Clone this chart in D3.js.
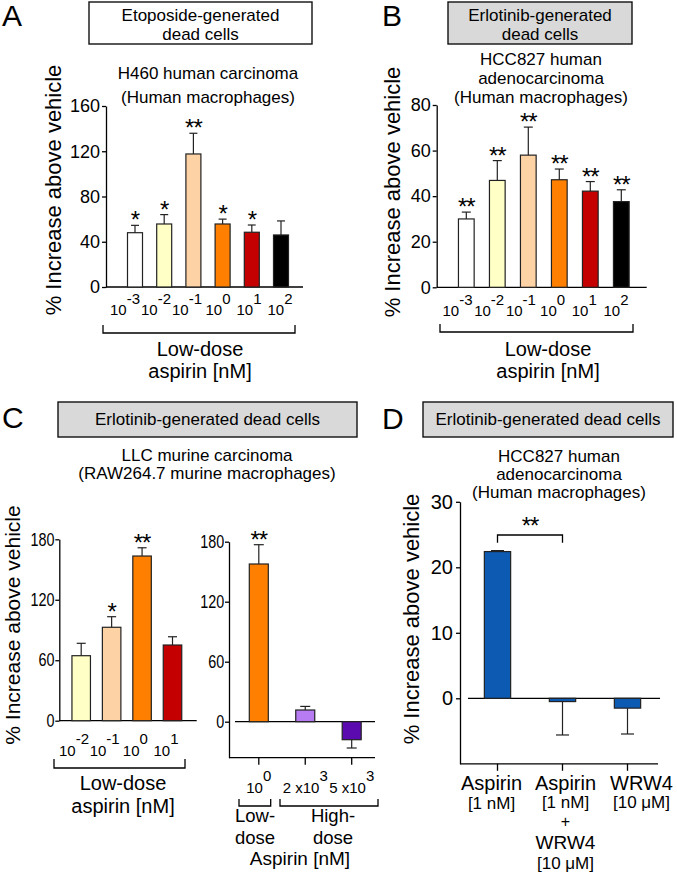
<!DOCTYPE html>
<html>
<head>
<meta charset="utf-8">
<script src="https://cdn.jsdelivr.net/npm/d3@7"></script>
<style>
  body { margin: 0; background: #fff; }
  svg { display: block; }
  text { font-family: "Liberation Sans", Arial, Helvetica, sans-serif; fill: #000; }
</style>
</head>
<body>
<svg id="chart" width="677" height="876"></svg>
<script>
// ---------------- DATA ----------------
// Panel A: Etoposide-generated dead cells, H460, human macrophages
const exponentsA = ["-3", "-2", "-1", "0", "1", "2"];
const valuesA = [48, 55.7, 117.6, 55.7, 48.4, 46];
const semA = [6.5, 8.3, 18.3, 4.3, 6.4, 12.4];
const starsA = ["*", "*", "**", "*", "*", ""];
const ticksA = [0, 40, 80, 120, 160];

// Panel B: Erlotinib-generated dead cells, HCC827, human macrophages
const exponentsB = ["-3", "-2", "-1", "0", "1", "2"];
const valuesB = [30, 46.9, 58, 47.2, 42.2, 37.6];
const semB = [3, 8.7, 12.3, 4.7, 4.2, 5.2];
const starsB = ["**", "**", "**", "**", "**", "**"];
const ticksB = [0, 20, 40, 60, 80];

// shared dose colours (10^-3 ... 10^2)
const doseColors = ["#ffffff", "#ffffc6", "#fdd3a6", "#ff8000", "#c40000", "#000000"];

// Panel C left: low-dose aspirin
const exponentsCLow = ["-2", "-1", "0", "1"];
const valuesCLow = [64.5, 92.7, 163.4, 75.1];
const semCLow = [12.3, 10.5, 8.2, 8.2];
const starsCLow = ["", "*", "**", ""];
const colorsCLow = ["#ffffc6", "#fdd3a6", "#ff8000", "#c40000"];
const ticksC = [0, 60, 120, 180];

// Panel C right: low vs high dose
const labelsCHigh = [["10", "0"], ["2 x10", "3"], ["5 x10", "3"]];
const valuesCHigh = [157.7, 11.7, -18];
const semCHigh = [19.3, 3.6, 8.3];
const starsCHigh = ["**", "", ""];
const colorsCHigh = ["#ff8000", "#b77cf2", "#5a0aae"];

// Panel D: WRW4
const labelsD = ["Aspirin", "Aspirin+WRW4", "WRW4"];
const valuesD = [22.4, -0.5, -1.5];
const semD = [0.15, 5.1, 3.95];
const ticksD = [0, 10, 20, 30];
const colorD = "#0c5ab2";

// ---------------- HELPERS ----------------
const svg = d3.select("#chart");
const FONT = "\"Liberation Sans\", Arial, Helvetica, sans-serif";
const STROKE = "#222";

function text(g, x, y, str, size, anchor = "middle") {
  return g.append("text").attr("x", x).attr("y", y)
    .attr("font-size", size).attr("text-anchor", anchor).text(str);
}
function lines(g, x, ys, strs, size) {
  strs.forEach((s, i) => text(g, x, ys[i], s, size));
}
function box(g, x0, y0, x1, y1, fill, strs, ys, size) {
  g.append("rect").attr("x", x0).attr("y", y0).attr("width", x1 - x0).attr("height", y1 - y0)
    .attr("fill", fill).attr("stroke", "#111").attr("stroke-width", 1.4);
  lines(g, (x0 + x1) / 2, ys, strs, size);
}
function powLabel(g, x, y, base, exp, fs, sfs, dy) {
  const t = g.append("text").attr("x", x).attr("y", y).attr("text-anchor", "middle").attr("font-size", fs);
  t.append("tspan").text(base);
  t.append("tspan").attr("font-size", sfs).attr("dy", -dy).text(exp);
}
function yAxis(g, y, ticks, x, fs, scaleX = 1, pad = 2) {
  const ax = g.append("g").attr("transform", `translate(${x},0)`)
    .call(d3.axisLeft(y).tickValues(ticks).tickSize(4).tickPadding(pad).tickSizeOuter(0));
  ax.attr("font-family", FONT).attr("font-size", fs);
  ax.select(".domain").attr("stroke", "#000").attr("stroke-width", 1.3);
  ax.selectAll(".tick line").attr("stroke", "#000").attr("stroke-width", 1.3);
  ax.selectAll(".tick text").attr("fill", "#000");
  if (scaleX !== 1) ax.selectAll(".tick text").attr("transform", `scale(${scaleX},1)`);
  return ax;
}
function hline(g, x0, x1, y, w = 1.3) {
  g.append("line").attr("x1", x0).attr("x2", x1).attr("y1", y).attr("y2", y)
    .attr("stroke", "#000").attr("stroke-width", w);
}
function bracketUp(g, x0, x1, y, h) {
  g.append("path").attr("d", `M${x0},${y - h}V${y}H${x1}V${y - h}`)
    .attr("fill", "none").attr("stroke", "#000").attr("stroke-width", 1.3);
}
function bars(g, cats, values, sem, colors, stars, x, y, bw, capW, starSize = 24) {
  cats.forEach((c, i) => {
    const v = values[i], cx = x(c);
    const y0 = y(0), yv = y(v);
    g.append("rect").attr("x", cx - bw / 2).attr("y", Math.min(y0, yv))
      .attr("width", bw).attr("height", Math.abs(y0 - yv))
      .attr("fill", colors[i]).attr("stroke", STROKE).attr("stroke-width", 1.2);
    const ye = v >= 0 ? y(v + sem[i]) : y(v - sem[i]);
    g.append("line").attr("x1", cx).attr("x2", cx).attr("y1", yv).attr("y2", ye)
      .attr("stroke", STROKE).attr("stroke-width", 1.2);
    g.append("line").attr("x1", cx - capW / 2).attr("x2", cx + capW / 2).attr("y1", ye).attr("y2", ye)
      .attr("stroke", STROKE).attr("stroke-width", 1.2);
    if (stars && stars[i]) {
      text(g, cx, ye + 3, stars[i], starSize).attr("letter-spacing", -1);
    }
  });
}
function yLabel(g, x, y, size) {
  g.append("text").attr("transform", `translate(${x},${y}) rotate(-90)`)
    .attr("text-anchor", "middle").attr("font-size", size).text("% Increase above vehicle");
}

// ---------------- PANEL A ----------------
{
  const g = svg.append("g");
  text(g, 2, 26, "A", 30, "start");
  box(g, 89, 2, 312, 44, "#ffffff", ["Etoposide-generated", "dead cells"], [20.5, 39.5], 17);
  lines(g, 208, [79, 102.5], ["H460 human carcinoma", "(Human macrophages)"], 17);
  const y = d3.scaleLinear().domain([0, 160]).range([287, 106]);
  const x = d3.scalePoint().domain(exponentsA).range([135, 281]);
  const xl = d3.scalePoint().domain(exponentsA).range([125, 280]);
  yAxis(g, y, ticksA, 106, 18);
  hline(g, 106, 303, y(0));
  bars(g, exponentsA, valuesA, semA, doseColors, starsA, x, y, 15, 8);
  exponentsA.forEach(e => powLabel(g, xl(e), 315, "10", e, 15, 15, 11));
  bracketUp(g, 103, 295, 333, 8);
  lines(g, 200, [356, 378], ["Low-dose", "aspirin [nM]"], 20);
  yLabel(g, 61, 190, 22);
}

// ---------------- PANEL B ----------------
{
  const g = svg.append("g");
  text(g, 382, 26, "B", 30, "start");
  box(g, 448, 2, 632, 44, "#d9d9d9", ["Erlotinib-generated", "dead cells"], [20.5, 39.5], 17);
  lines(g, 541, [64.5, 83.5, 102.5], ["HCC827 human", "adenocarcinoma", "(Human macrophages)"], 17);
  const y = d3.scaleLinear().domain([0, 80]).range([287.3, 105]);
  const x = d3.scalePoint().domain(exponentsB).range([466.3, 621.3]);
  const xl = d3.scalePoint().domain(exponentsB).range([457.5, 616]);
  yAxis(g, y, ticksB, 436.7, 18);
  hline(g, 436.7, 646.7, y(0));
  bars(g, exponentsB, valuesB, semB, doseColors, starsB, x, y, 15.7, 9);
  exponentsB.forEach(e => powLabel(g, xl(e), 316, "10", e, 15, 15, 11));
  bracketUp(g, 440, 633, 332, 8);
  lines(g, 548, [356, 378], ["Low-dose", "aspirin [nM]"], 20);
  yLabel(g, 400, 192, 22);
}

// ---------------- PANEL C ----------------
{
  const g = svg.append("g");
  text(g, 2, 428, "C", 30, "start");
  box(g, 58, 402, 357, 437, "#d9d9d9", ["Erlotinib-generated dead cells"], [425], 17);
  lines(g, 207, [460.5, 478.5], ["LLC murine carcinoma", "(RAW264.7 murine macrophages)"], 17);
  yLabel(g, 20, 625, 21);

  // left
  const y = d3.scaleLinear().domain([0, 180]).range([720.7, 539.3]);
  const x = d3.scalePoint().domain(exponentsCLow).range([81.2, 172.5]);
  const xl = d3.scalePoint().domain(exponentsCLow).range([74, 166]);
  yAxis(g, y, ticksC, 59.3, 18, 0.8);
  hline(g, 59.3, 196.7, y(0));
  bars(g, exponentsCLow, valuesCLow, semCLow, colorsCLow, starsCLow, x, y, 18.5, 9);
  exponentsCLow.forEach(e => powLabel(g, xl(e), 756, "10", e, 15, 15, 12));
  bracketUp(g, 54, 185, 768, 9);
  lines(g, 123, [790, 813], ["Low-dose", "aspirin [nM]"], 20);

  // right
  const keys = labelsCHigh.map(d => d[0] + "^" + d[1]);
  const y2 = d3.scaleLinear().domain([-36, 180]).range([757.7, 541.7]);
  const x2 = d3.scalePoint().domain(keys).range([258.8, 351.7]);
  yAxis(g, y2, ticksC, 229, 18, 0.8);
  hline(g, 235, 375, y2(0));
  hline(g, 229, 375, y2(-36));
  keys.forEach(k => g.append("line").attr("x1", x2(k)).attr("x2", x2(k))
    .attr("y1", y2(-36)).attr("y2", y2(-36) + 7).attr("stroke", "#000").attr("stroke-width", 1.3));
  bars(g, keys, valuesCHigh, semCHigh, colorsCHigh, starsCHigh, x2, y2, 19, 10);
  keys.forEach((k, i) => powLabel(g, x2(k), 793, labelsCHigh[i][0], labelsCHigh[i][1], 15, 15, 12));
  bracketUp(g, 239, 270.7, 806, 7);
  bracketUp(g, 280, 378, 806, 7);
  lines(g, 255, [822, 844], ["Low-", "dose"], 18.5);
  lines(g, 333, [822, 844], ["High-", "dose"], 18.5);
  text(g, 300, 865, "Aspirin [nM]", 19);
}

// ---------------- PANEL D ----------------
{
  const g = svg.append("g");
  text(g, 382, 429, "D", 30, "start");
  box(g, 423, 402, 673, 437, "#d9d9d9", ["Erlotinib-generated dead cells"], [425], 17);
  lines(g, 559, [461.7, 480, 498], ["HCC827 human", "adenocarcinoma", "(Human macrophages)"], 17);
  yLabel(g, 419, 619, 22);
  const y = d3.scaleLinear().domain([-10, 30]).range([763.8, 501.8]);
  const x = d3.scalePoint().domain(labelsD).range([497.5, 627.5]);
  yAxis(g, y, ticksD, 460, 20, 1, 3);
  hline(g, 468, 660, y(0));
  hline(g, 460, 658, y(-10));
  labelsD.forEach(k => g.append("line").attr("x1", x(k)).attr("x2", x(k))
    .attr("y1", y(-10)).attr("y2", y(-10) + 7).attr("stroke", "#000").attr("stroke-width", 1.3));
  bars(g, labelsD, valuesD, semD, labelsD.map(() => colorD), null, x, y, 26.3, 13);
  // significance bracket between Aspirin and Aspirin+WRW4
  const bx0 = x(labelsD[0]), bx1 = x(labelsD[1]);
  g.append("path").attr("d", `M${bx0},542.7V535H${bx1}V542.7`)
    .attr("fill", "none").attr("stroke", "#000").attr("stroke-width", 1.3);
  text(g, (bx0 + bx1) / 2, 534, "**", 24).attr("letter-spacing", -1);
  // x labels
  const c0 = x(labelsD[0]) - 6, c1 = x(labelsD[1]) + 3, c2 = x(labelsD[2]) + 14;
  text(g, c0, 790, "Aspirin", 20); text(g, c0, 809, "[1 nM]", 17);
  text(g, c1, 790, "Aspirin", 20); text(g, c1, 808, "[1 nM]", 17);
  text(g, c1, 827, "+", 16); text(g, c1, 849, "WRW4", 19); text(g, c1, 869, "[10 \u03bcM]", 17);
  text(g, c2, 790, "WRW4", 20); text(g, c2, 808, "[10 \u03bcM]", 17);
}
</script>
</body>
</html>
